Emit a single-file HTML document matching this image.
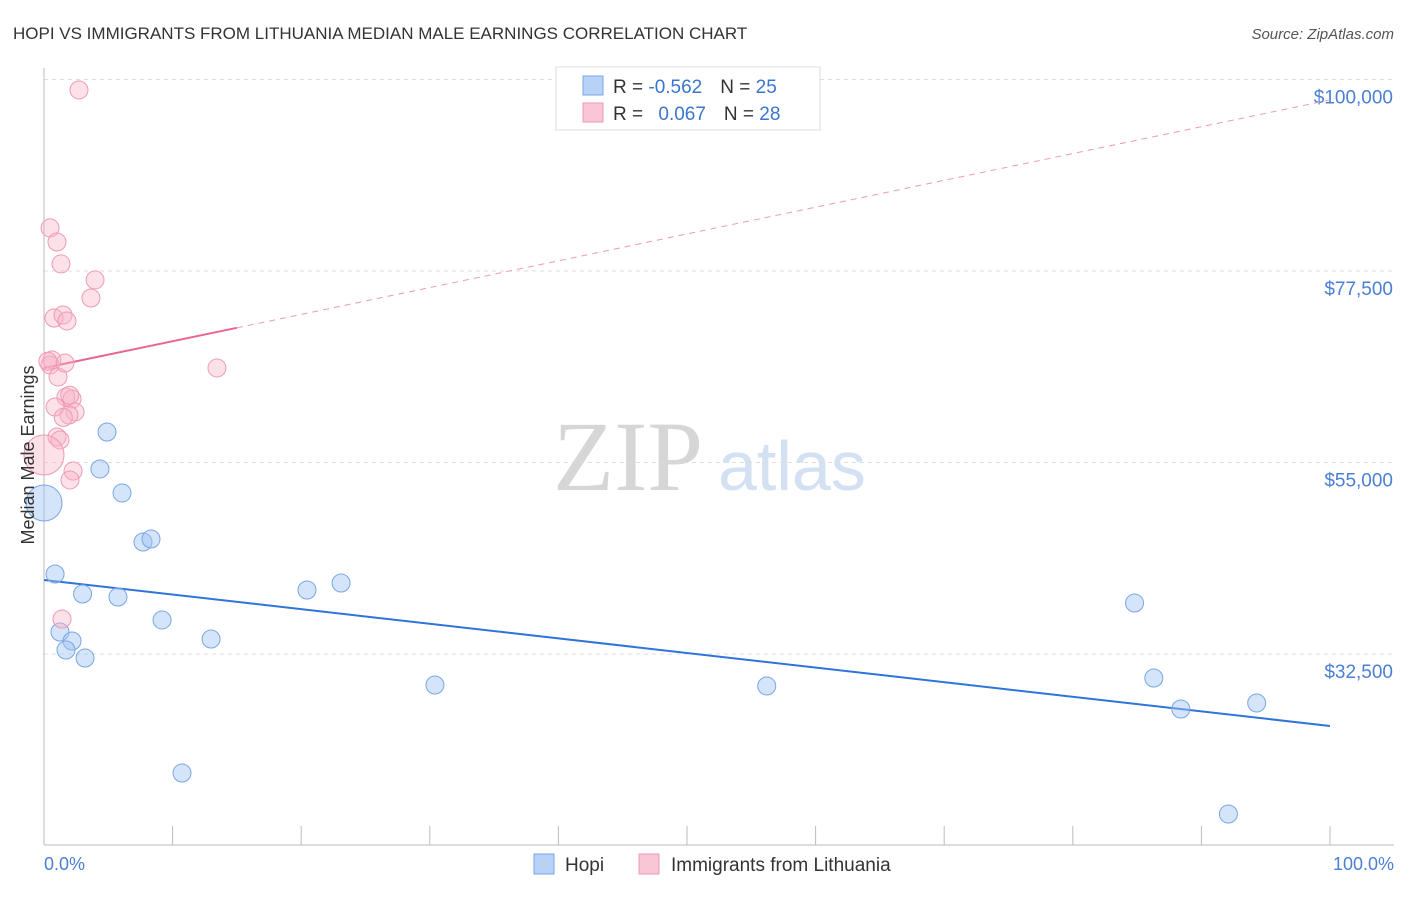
<!DOCTYPE html>
<html><head><meta charset="utf-8"><style>
body{margin:0;background:#fff;font-family:"Liberation Sans",sans-serif;}
svg text{font-family:"Liberation Sans",sans-serif;}
svg text.serif{font-family:"Liberation Serif",serif;}
</style></head><body>
<svg id="chart" width="1406" height="892" xmlns="http://www.w3.org/2000/svg">
<text x="13" y="39" font-size="17" fill="#333">HOPI VS IMMIGRANTS FROM LITHUANIA MEDIAN MALE EARNINGS CORRELATION CHART</text>
<text x="1394" y="39" font-size="15" fill="#555" text-anchor="end" font-style="italic">Source: ZipAtlas.com</text>
<g>
<text class="serif" x="553" y="490" font-size="100" fill="#d6d6d6">ZIP</text>
<text x="718" y="490" font-size="70" fill="#d3e1f3">atlas</text>
</g>
<g id="grid"></g>
<g id="axes"></g>
<g id="trends"></g>
<g id="points"></g>
<text transform="translate(34,455) rotate(-90)" font-size="18" fill="#333" text-anchor="middle">Median Male Earnings</text>
<text x="44" y="870" font-size="18" fill="#4a7fd4">0.0%</text>
<text x="1394" y="870" font-size="18" fill="#4a7fd4" text-anchor="end">100.0%</text>
<g>
<rect x="556" y="67" width="264" height="63" fill="#fff" stroke="#ddd"/>
<rect x="583" y="76" width="20" height="19" fill="#b8d2f5" stroke="#7aa6e6"/>
<rect x="583" y="103" width="20" height="19" fill="#f9c6d5" stroke="#ef9ab3"/>
<text x="613" y="93" font-size="19" fill="#333">R = <tspan fill="#3a76d0">-0.562</tspan><tspan dx="18">N = </tspan><tspan fill="#3a76d0">25</tspan></text>
<text x="613" y="120" font-size="19" fill="#333">R = <tspan dx="10" fill="#3a76d0">0.067</tspan><tspan dx="18">N = </tspan><tspan fill="#3a76d0">28</tspan></text>
</g>
<g>
<rect x="534" y="854" width="20" height="20" fill="#b8d2f5" stroke="#7aa6e6"/>
<text x="565" y="871" font-size="19" fill="#333">Hopi</text>
<rect x="639" y="854" width="20" height="20" fill="#f9c6d5" stroke="#ef9ab3"/>
<text x="671" y="871" font-size="19" fill="#333">Immigrants from Lithuania</text>
</g>
</svg>
<script>
const yTicks=[32500,55000,77500,100000];
const yTickLabels=["$32,500","$55,000","$77,500","$100,000"];
const hopiX=[0.86,3.0,1.24,2.18,1.71,3.19,4.35,4.9,6.07,5.75,7.7,8.32,9.18,10.73,12.99,20.45,23.1,30.4,56.2,84.8,86.3,88.4,94.3,92.1,0];
const hopiY=[41900,39550,35085,34030,32970,32030,54240,58585,51420,39200,45660,46010,36500,18520,34260,40020,40840,28860,28740,38490,29680,26040,26740,13700,50240];
const hopiR=[9,9,9,9,9,9,9,9,9,9,9,9,9,9,9,9,9,9,9,9,9,9,9,9,18];
const lithX=[2.72,0.47,1.01,1.32,3.97,3.65,0.78,1.48,1.79,0.62,0.47,1.09,1.63,13.45,1.71,2.18,0.86,2.41,1.94,1.01,1.24,2.26,2.02,1.4,0,0.3,2.0,1.5];
const lithY=[98770,82560,80910,78330,76450,74330,71980,72330,71630,67050,66460,65050,66690,66110,62700,62460,61520,60940,60580,58000,57650,54000,52950,36610,55880,66900,62900,60300];
const lithR=[9,9,9,9,9,9,9,9,9,9,9,9,9,9,9,9,9,9,9,9,9,9,9,9,20,9,9,9];
const hopiTrend=[41200,24040];
const lithTrend=[66100,97600];
const lithSolidEnd=15;
const NS="http://www.w3.org/2000/svg";
const X=p=>44+p*12.86;
const Y=v=>654-(v-32500)/22500*191.5;
function mk(parent,tag,attrs){const e=document.createElementNS(NS,tag);for(const k in attrs)e.setAttribute(k,attrs[k]);document.getElementById(parent).appendChild(e);return e;}
yTicks.forEach((v,i)=>{
 const l=mk('grid','line',{x1:44,x2:1394,y1:Y(v),y2:Y(v),stroke:'#ddd','stroke-dasharray':'4,4'});
 
 
 const t=mk('grid','text',{x:1393,y:Y(v)+24,'font-size':19,fill:'#4a7fd4','text-anchor':'end'});
 t.textContent=yTickLabels[i];
 
 
});
let a=mk('axes','line',{x1:44,x2:44,y1:68,y2:845,stroke:'#bbb'});


a=mk('axes','line',{x1:44,x2:1394,y1:845,y2:845,stroke:'#bbb'});


for(let i=0;i<=10;i++){const t=mk('axes','line',{x1:X(i*10),x2:X(i*10),y1:826,y2:845,stroke:'#bbb'});
 
 }
hopiX.forEach((x,i)=>{const c=mk('points','circle',{cx:X(x),cy:Y(hopiY[i]),r:hopiR[i],fill:'rgba(160,196,242,0.45)',stroke:'#7aa6e6','stroke-width':1});
 
 });
lithX.forEach((x,i)=>{const c=mk('points','circle',{cx:X(x),cy:Y(lithY[i]),r:lithR[i],fill:'rgba(247,180,200,0.4)',stroke:'#ef9ab3','stroke-width':1});
 
 });
let t=mk('trends','line',{x1:X(0),y1:Y(hopiTrend[0]),x2:X(100),y2:Y(hopiTrend[1]),stroke:'#2f74d8','stroke-width':2});


const ly=p=>lithTrend[0]+(lithTrend[1]-lithTrend[0])*p/100;
t=mk('trends','line',{x1:X(0),y1:Y(ly(0)),x2:X(lithSolidEnd),y2:Y(ly(lithSolidEnd)),stroke:'#e8658f','stroke-width':2});


t=mk('trends','line',{x1:X(lithSolidEnd),y1:Y(ly(lithSolidEnd)),x2:X(100),y2:Y(ly(100)),stroke:'#ef9ab3','stroke-width':1,'stroke-dasharray':'6,5'});


</script>
</body></html>
